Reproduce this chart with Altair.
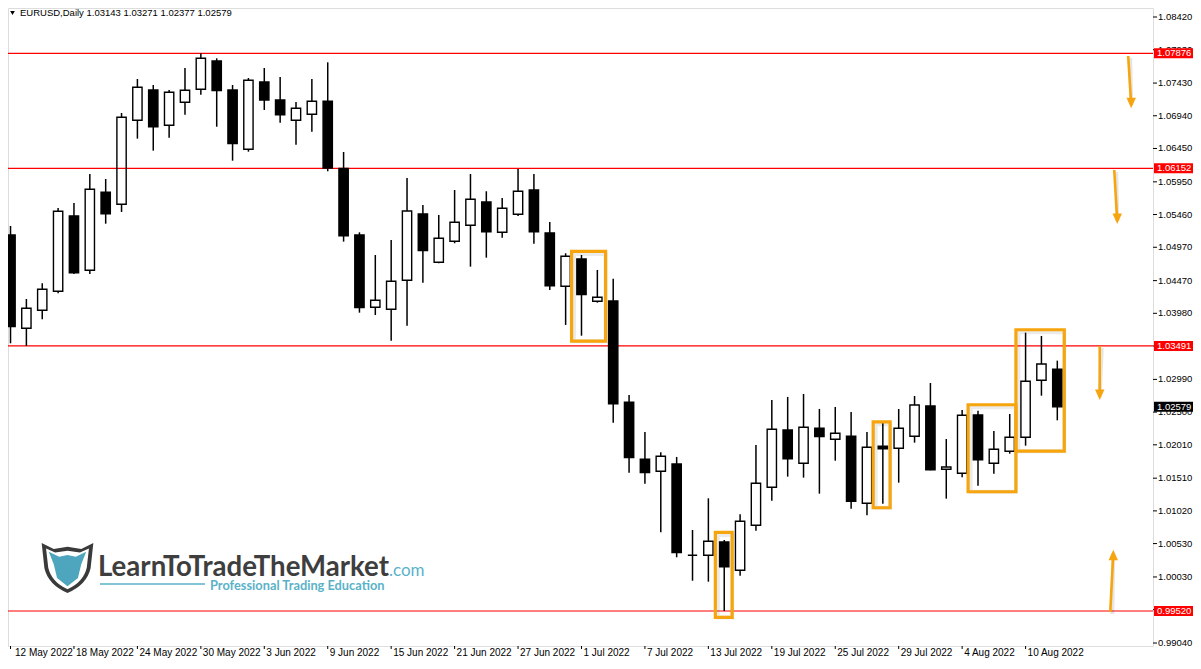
import altair as alt
import pandas as pd

# ---------------- data ----------------
dates = [
    "12 May 2022", "13 May 2022", "16 May 2022", "17 May 2022", "18 May 2022", "19 May 2022",
    "20 May 2022", "23 May 2022", "24 May 2022", "25 May 2022", "26 May 2022", "27 May 2022",
    "30 May 2022", "31 May 2022", "1 Jun 2022", "2 Jun 2022", "3 Jun 2022", "6 Jun 2022",
    "7 Jun 2022", "8 Jun 2022", "9 Jun 2022", "10 Jun 2022", "13 Jun 2022", "14 Jun 2022",
    "15 Jun 2022", "16 Jun 2022", "17 Jun 2022", "20 Jun 2022", "21 Jun 2022", "22 Jun 2022",
    "23 Jun 2022", "24 Jun 2022", "27 Jun 2022", "28 Jun 2022", "29 Jun 2022", "30 Jun 2022",
    "1 Jul 2022", "4 Jul 2022", "5 Jul 2022", "6 Jul 2022", "7 Jul 2022", "8 Jul 2022",
    "11 Jul 2022", "12 Jul 2022", "13 Jul 2022", "14 Jul 2022", "15 Jul 2022", "18 Jul 2022",
    "19 Jul 2022", "20 Jul 2022", "21 Jul 2022", "22 Jul 2022", "25 Jul 2022", "26 Jul 2022",
    "27 Jul 2022", "28 Jul 2022", "29 Jul 2022", "1 Aug 2022", "2 Aug 2022", "3 Aug 2022",
    "4 Aug 2022", "5 Aug 2022", "8 Aug 2022", "9 Aug 2022", "10 Aug 2022", "11 Aug 2022",
    "12 Aug 2022",
]
opens = [
    1.05154, 1.03756, 1.04026, 1.04311, 1.05439, 1.04625, 1.05794, 1.05614, 1.06872, 1.07326,
    1.06797, 1.07142, 1.07337, 1.07761, 1.07326, 1.06438, 1.07446, 1.07176, 1.06872, 1.06962,
    1.07157, 1.06152, 1.05154, 1.04071, 1.04041, 1.04475, 1.05469, 1.04745, 1.05060, 1.05299,
    1.05648, 1.05194, 1.05464, 1.05828, 1.05184, 1.04385, 1.04794, 1.04161, 1.04165, 1.02647,
    1.01793, 1.01614, 1.01723, 1.00355, 1.00355, 1.00554, 1.00130, 1.00804, 1.01374, 1.02232,
    1.01733, 1.02258, 1.02093, 1.02138, 1.01134, 1.01988, 1.01958, 1.02138, 1.02592, 1.01643,
    1.01583, 1.02457, 1.01733, 1.01913, 1.02123, 1.02977, 1.03143,
]
highs = [
    1.05289, 1.04195, 1.04430, 1.05558, 1.05633, 1.06068, 1.05993, 1.06982, 1.07491, 1.07401,
    1.07326, 1.07656, 1.07876, 1.07801, 1.07401, 1.07506, 1.07656, 1.07521, 1.07146, 1.07491,
    1.07741, 1.06397, 1.05194, 1.04854, 1.05079, 1.06008, 1.05603, 1.05454, 1.05828, 1.06068,
    1.05809, 1.05708, 1.06143, 1.06068, 1.05349, 1.04880, 1.04854, 1.04630, 1.04499, 1.02757,
    1.02203, 1.01898, 1.01828, 1.00734, 1.01209, 1.00584, 1.00969, 1.02007, 1.02682, 1.02727,
    1.02772, 1.02547, 1.02577, 1.02502, 1.02203, 1.02342, 1.02547, 1.02742, 1.02936, 1.02097,
    1.02532, 1.02522, 1.02217, 1.02472, 1.03690, 1.03641, 1.03271,
]
lows = [
    1.03531, 1.03491, 1.03891, 1.04281, 1.04570, 1.04570, 1.05323, 1.05499, 1.06597, 1.06417,
    1.06612, 1.06956, 1.07256, 1.06776, 1.06267, 1.06402, 1.07027, 1.06836, 1.06507, 1.06701,
    1.06108, 1.05054, 1.03990, 1.03955, 1.03570, 1.03795, 1.04439, 1.04730, 1.05030, 1.04679,
    1.04814, 1.05113, 1.05440, 1.05024, 1.04330, 1.03806, 1.03645, 1.04140, 1.02342, 1.01593,
    1.01428, 1.00700, 1.00325, 0.99974, 0.99959, 0.99520, 1.00049, 1.00724, 1.01173, 1.01533,
    1.01518, 1.01278, 1.01772, 1.01053, 1.00955, 1.01128, 1.01443, 1.02042, 1.01628, 1.01203,
    1.01524, 1.01398, 1.01578, 1.01877, 1.01997, 1.02746, 1.02377,
]
closes = [
    1.03780, 1.04056, 1.04340, 1.05509, 1.04589, 1.05839, 1.05473, 1.06917, 1.07367, 1.06776,
    1.07292, 1.07322, 1.07801, 1.07316, 1.06522, 1.07472, 1.07176, 1.06956, 1.07052, 1.07157,
    1.06158, 1.05143, 1.04065, 1.04176, 1.04460, 1.05513, 1.04919, 1.05105, 1.05344, 1.05689,
    1.05203, 1.05554, 1.05809, 1.05203, 1.04394, 1.04835, 1.04260, 1.04221, 1.02626, 1.01818,
    1.01593, 1.01838, 1.00394, 1.00355, 1.00565, 1.00184, 1.00865, 1.01434, 1.02243, 1.01802,
    1.02273, 1.02132, 1.02183, 1.01164, 1.01973, 1.01952, 1.02258, 1.02607, 1.01637, 1.01678,
    1.02453, 1.01787, 1.01943, 1.02123, 1.02962, 1.03221, 1.02579,
]

price_ticks = [1.08420, 1.07930, 1.07430, 1.06940, 1.06450, 1.05950, 1.05460, 1.04970,
               1.04470, 1.03980, 1.03490, 1.02990, 1.02500, 1.02010, 1.01510, 1.01020,
               1.00530, 1.00030, 0.99540, 0.99040]
levels = [1.07876, 1.06152, 1.03491, 0.99520]

# highlight boxes (candle index range, price range)
box_x0 = [35.375, 44.44, 54.39, 60.375, 63.39]
box_x1 = [37.52, 45.50, 55.46, 63.39, 66.44]
box_top = [1.04907, 1.00697, 1.02355, 1.02610, 1.03734]
box_bottom = [1.03563, 0.99424, 1.01067, 1.01307, 1.01915]

# arrows (start -> tip)
arrow_x0 = [70.47, 69.59, 68.675, 69.34]
arrow_x1 = [70.66, 69.78, 68.675, 69.53]
arrow_y0 = [1.07836, 1.06128, 1.03491, 0.99506]
arrow_y1 = [1.07101, 1.05364, 1.02727, 1.00390]
arrow_dir = ["down", "down", "down", "up"]

# ---------------- frames ----------------
df = pd.DataFrame({"i": range(len(dates)), "date": dates, "open": opens,
                   "high": highs, "low": lows, "close": closes})
df["top"] = df[["open", "close"]].max(axis=1)
df["bot"] = df[["open", "close"]].min(axis=1)

W, H = 1145, 638
x_domain = [0.15625, 71.71875]
y_domain = [0.989955, 1.085547]
xs = alt.Scale(domain=x_domain, nice=False, zero=False)
ys = alt.Scale(domain=y_domain, nice=False, zero=False)

ORANGE = "#f6a50e"
FONT = "Liberation Sans"


def Y(field):
    return alt.Y(field, scale=ys, axis=None)


def X(field):
    return alt.X(field, scale=xs, axis=None)


lv = pd.DataFrame({"p": levels + [closes[-1]],
                   "kind": ["level"] * len(levels) + ["last"]})

level_lines = alt.Chart(lv).transform_filter("datum.kind == 'level'").mark_rule(
    color="#ff0000", strokeWidth=1.2).encode(y=Y("p:Q"))

base = alt.Chart(df)
wick_up = base.mark_rule(color="black", strokeWidth=1.5, clip=True).encode(
    x=X("i:Q"), y=Y("high:Q"), y2="top:Q")
wick_dn = base.mark_rule(color="black", strokeWidth=1.5, clip=True).encode(
    x=X("i:Q"), y=Y("bot:Q"), y2="low:Q")
bull = base.transform_filter("datum.close >= datum.open").mark_bar(
    filled=False, color="black", strokeWidth=1.4, size=9.3, clip=True, orient="vertical").encode(
    x=X("i:Q"), y=Y("top:Q"), y2="bot:Q")
bear = base.transform_filter("datum.close < datum.open").mark_bar(
    color="black", stroke="black", strokeWidth=1.4, size=9.3, clip=True, orient="vertical").encode(
    x=X("i:Q"), y=Y("top:Q"), y2="bot:Q")

bx = pd.DataFrame({"x0": box_x0, "x1": box_x1, "top": box_top, "bottom": box_bottom})
box_enc = dict(x=X("x0:Q"), x2="x1:Q", y=Y("top:Q"), y2="bottom:Q")
box_shadow = alt.Chart(bx).mark_rect(filled=False, color="#000000", strokeOpacity=0.08,
                                     strokeWidth=4, xOffset=2.5, yOffset=2.5).encode(**box_enc)
boxes = alt.Chart(bx).mark_rect(filled=False, color=ORANGE, strokeWidth=3.2).encode(**box_enc)

ar = pd.DataFrame({"x0": arrow_x0, "x1": arrow_x1, "y0": arrow_y0, "y1": arrow_y1,
                   "dir": arrow_dir})
ar_enc = dict(x=X("x0:Q"), x2="x1:Q", y=Y("y0:Q"), y2="y1:Q")
arrow_shadow = alt.Chart(ar).mark_rule(color="#000000", opacity=0.1, strokeWidth=4,
                                       xOffset=2, yOffset=2).encode(**ar_enc)
arrows = alt.Chart(ar).mark_rule(color=ORANGE, strokeWidth=2.6).encode(**ar_enc)
head_down = "M-0.9,-1.4L0.9,-1.4L0,0.6Z"
head_up = "M-0.9,1.4L0.9,1.4L0,-0.6Z"
heads = alt.Chart(ar).mark_point(filled=True, size=110, opacity=1, color=ORANGE,
                                 strokeWidth=0).encode(
    x=X("x1:Q"), y=Y("y1:Q"),
    shape=alt.Shape("dir:N", scale=alt.Scale(domain=["down", "up"],
                                             range=[head_down, head_up]), legend=None))

# right price axis (drawn as marks)
pt = pd.DataFrame({"p": price_ticks})
p_ticks = alt.Chart(pt).mark_rule(color="black", strokeWidth=1).encode(
    y=Y("p:Q"), x=alt.value(W), x2=alt.value(W + 4))
p_labels = alt.Chart(pt).mark_text(align="left", baseline="middle", font=FONT,
                                   fontSize=9.5, color="black").encode(
    y=Y("p:Q"), x=alt.value(W + 5), text=alt.Text("p:Q", format=".5f"))

label_boxes = alt.Chart(lv).mark_tick(orient="horizontal", size=44, thickness=10,
                                      opacity=1).encode(
    y=Y("p:Q"), x=alt.value(1168),
    color=alt.Color("kind:N", scale=alt.Scale(domain=["level", "last"],
                                              range=["#ff0000", "#000000"]), legend=None))
label_text = alt.Chart(lv).mark_text(align="left", baseline="middle", color="white",
                                     font=FONT, fontSize=9.5).encode(
    y=Y("p:Q"), x=alt.value(W + 4), text=alt.Text("p:Q", format=".5f"))

# bottom date axis (drawn as marks)
tk = pd.DataFrame({"i": list(range(0, len(dates), 4))})
tk["label"] = [dates[i] for i in tk["i"]]
tk["lx"] = tk["i"].clip(lower=x_domain[0])
x_ticks = alt.Chart(tk).mark_rule(color="black", strokeWidth=1).encode(
    x=X("i:Q"), y=alt.value(H), y2=alt.value(H + 3))
x_labels = alt.Chart(tk).mark_text(align="left", baseline="alphabetic", dx=2, font=FONT,
                                   fontSize=10, color="black").encode(
    x=X("lx:Q"), y=alt.value(H + 10), text="label:N")

hdr = pd.DataFrame({"t": [f"EURUSD,Daily  {opens[-1]:.5f} {highs[-1]:.5f} "
                          f"{lows[-1]:.5f} {closes[-1]:.5f}"]})
header_tri = alt.Chart(hdr).mark_point(shape="triangle-down", filled=True, size=22,
                                       color="black", opacity=1).encode(
    x=alt.value(4.5), y=alt.value(5))
header = alt.Chart(hdr).mark_text(align="left", baseline="middle", font=FONT,
                                  fontSize=9.5, color="black").encode(
    x=alt.value(12), y=alt.value(5), text="t:N")

# logo (watermark)
shield = pd.DataFrame({
    "path": [
        "M-0.94,-0.82L-0.5,-0.6L0,-0.68L0.5,-0.6L0.94,-0.82L0.84,0.1Q0.7,0.7 0,1Q-0.7,0.7 -0.84,0.1Z",
        "M-0.78,-0.62L-0.45,-0.47L0,-0.54L0.45,-0.47L0.78,-0.62L0.7,0.08Q0.58,0.6 0,0.86Q-0.58,0.6 -0.7,0.08Z",
        "M-0.68,-0.5L-0.3,-0.32L0,-0.38L0.3,-0.32L0.68,-0.5L0.5,-0.05L0.38,0.45L0,0.75L-0.38,0.45L-0.5,-0.05Z",
    ],
    "col": ["#3a3a3a", "#ffffff", "#4da6bd"],
    "o": [0, 1, 2],
})
logo_shield = alt.Chart(shield).mark_point(filled=True, size=3025, opacity=1,
                                           strokeWidth=0).encode(
    x=alt.value(59.5), y=alt.value(557.5),
    shape=alt.Shape("path:N", scale=None), color=alt.Color("col:N", scale=None),
    order="o:Q")
one = pd.DataFrame({"a": ["LearnToTradeTheMarket"], "b": [".com"],
                    "c": ["Professional Trading Education"]})
LOGO_FONT = "Lato"
logo_main = alt.Chart(one).mark_text(align="left", baseline="alphabetic", font=LOGO_FONT,
                                     fontWeight="bold", fontSize=27.6, color="#3e3e3e").encode(
    x=alt.value(90), y=alt.value(568), text="a:N")
logo_com = alt.Chart(one).mark_text(align="left", baseline="alphabetic", font=LOGO_FONT,
                                    fontSize=17, color="#5ab2c8").encode(
    x=alt.value(381), y=alt.value(568), text="b:N")
logo_line = alt.Chart(one).mark_rule(color="#5ab2c8", strokeWidth=1.5).encode(
    x=alt.value(92), x2=alt.value(197), y=alt.value(576))
logo_sub = alt.Chart(one).mark_text(align="left", baseline="alphabetic", font=LOGO_FONT,
                                    fontWeight="bold", fontSize=12.8, color="#5ab2c8").encode(
    x=alt.value(202), y=alt.value(582), text="c:N")

chart = alt.layer(
    level_lines, wick_up, wick_dn, bull, bear,
    box_shadow, boxes, arrow_shadow, arrows, heads,
    p_ticks, p_labels, label_boxes, label_text, x_ticks, x_labels, header_tri, header,
    logo_shield, logo_main, logo_com, logo_line, logo_sub,
).properties(
    width=W, height=H,
    autosize=alt.AutoSizeParams(type="none"),
    padding={"left": 0, "top": 0, "right": 40, "bottom": 12},
).configure_view(stroke="black", strokeWidth=1).configure(background="white")

chart.save("out.html", embed_options={"renderer": "svg", "actions": False})
